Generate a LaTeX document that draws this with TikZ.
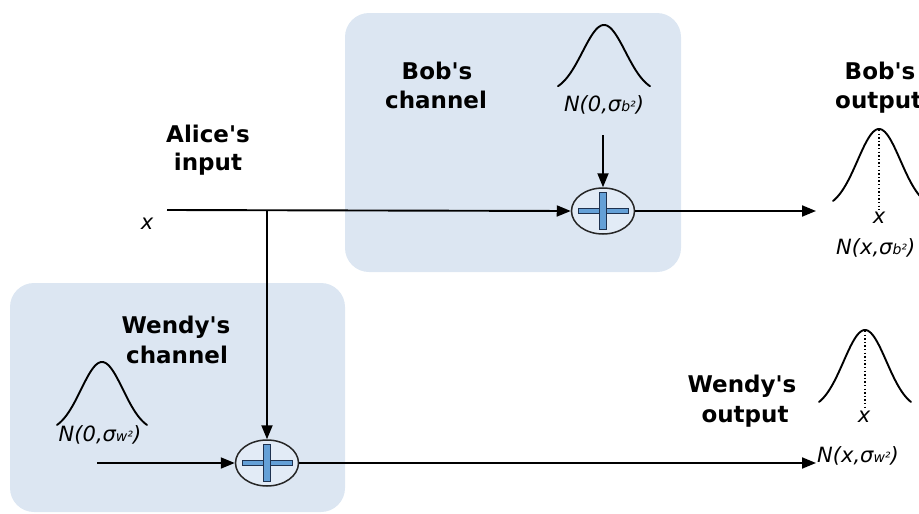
\documentclass[tikz,border=0pt]{standalone}
\usepackage{fontspec}
\setmainfont{DejaVu Sans}
\usetikzlibrary{arrows.meta,shapes.geometric}
\definecolor{boxblue}{RGB}{220,230,242}
\definecolor{plusblue}{RGB}{100,160,215}
\definecolor{plusedge}{RGB}{30,50,80}
\definecolor{sumfill}{RGB}{226,235,246}
\tikzset{
  chanbox/.style={fill=boxblue, draw=none, rounded corners=24pt},
  lbl/.style={font=\fontsize{23}{28}\selectfont\bfseries, anchor=base, inner sep=0pt},
  ital/.style={font=\fontsize{21}{24}\selectfont\itshape, anchor=base, inner sep=0pt},
  conn/.style={line width=1.9pt, draw=black},
  arr/.style={conn, -{Triangle[length=14pt,width=11pt]}},
  sumnode/.style={ellipse, draw=black!85, line width=1.5pt, fill=sumfill,
    minimum width=63pt, minimum height=46pt, inner sep=0pt},
  bell/.style={line width=1.9pt, line cap=round},
  dotline/.style={line width=1.4pt, dash pattern=on 1.4pt off 2.2pt},
  plusbar/.style={fill=plusblue, draw=plusedge, line width=0.9pt},
}
\newcommand{\ap}{\textquotesingle}
\newcommand{\sgm}[1]{σ{\fontsize{14}{14}\selectfont #1²}}
\newcommand{\plussign}[1]{%
  \draw[plusbar] ([shift={(-25,-2.5)}]#1) rectangle ([shift={(25,2.5)}]#1);
  \draw[plusbar] ([shift={(-3.5,-18.5)}]#1) rectangle ([shift={(3.5,18.5)}]#1);
}
\newcommand{\bellcurve}[4]{%
  \draw[bell] plot[domain=-#4:#4, samples=61, smooth]
    ({#1+\x},{#2-#3*exp(-2.3*(\x/#4)*(\x/#4))});
}
\begin{document}
\begin{tikzpicture}[x=1pt,y=-1pt]
\useasboundingbox (0,0) rectangle (919,514);
% channel boxes
\fill[chanbox] (345,13) rectangle (681,272);
\fill[chanbox] (10,283) rectangle (345,512);

% labels
\node[lbl] (bc1) at (437,79) {Bob\ap s};
\node[lbl] (bc2) at (436,108) {channel};
\node[lbl] (ai1) at (208,142) {Alice\ap s};
\node[lbl] (ai2) at (208,170) {input};
\node[lbl] (wc1) at (176,333) {Wendy\ap s};
\node[lbl] (wc2) at (177,363) {channel};
\node[lbl] (wo1) at (742,392) {Wendy\ap s};
\node[lbl] (wo2) at (745,422) {output};
\node[lbl] (bo1) at (880,79) {Bob\ap s};
\node[lbl, anchor=base west] (bo2) at (835,108) {output};

% bell curves
\bellcurve{604}{93}{68}{46}
\bellcurve{102}{432}{70}{45}
\bellcurve{879}{209}{80}{46}
\bellcurve{865}{410}{80}{46}
\draw[dotline] (879,130) -- (879,210);
\draw[dotline] (865,331) -- (865,407);

% italic labels
\node[ital] (xin) at (147,229) {x};
\node[ital] (nb) at (604,111) {N(0,\sgm{b})};
\node[ital] (nw) at (100,441) {N(0,\sgm{w})};
\node[ital] (xb) at (879,223) {x};
\node[ital, anchor=base west] (nxb) at (836,254) {N(x,\sgm{b})};
\node[ital] (xw) at (864,422) {x};
\node[ital, anchor=base west] (nxw) at (817,462) {N(x,\sgm{w})};

% summing nodes
\node[sumnode] (bsum) at (603,211) {};
\node[sumnode] (wsum) at (267,463) {};
\plussign{bsum.center}
\plussign{wsum.center}

% connectors
\coordinate (xstart) at (167,210);
\coordinate (branch) at (267,210);
\coordinate (bnoise) at (603,135);
\coordinate (wnoise) at (97,463);
\coordinate (bout) at (816,211);
\coordinate (wout) at (816,463);
\draw[arr] (xstart) -- (bsum.west);
\draw[arr] (branch) -- (wsum.north);
\draw[arr] (bnoise) -- (bsum.north);
\draw[arr] (wnoise) -- (wsum.west);
\draw[arr] (bsum.east) -- (bout);
\draw[arr] (wsum.east) -- (wout);
\end{tikzpicture}
\end{document}
